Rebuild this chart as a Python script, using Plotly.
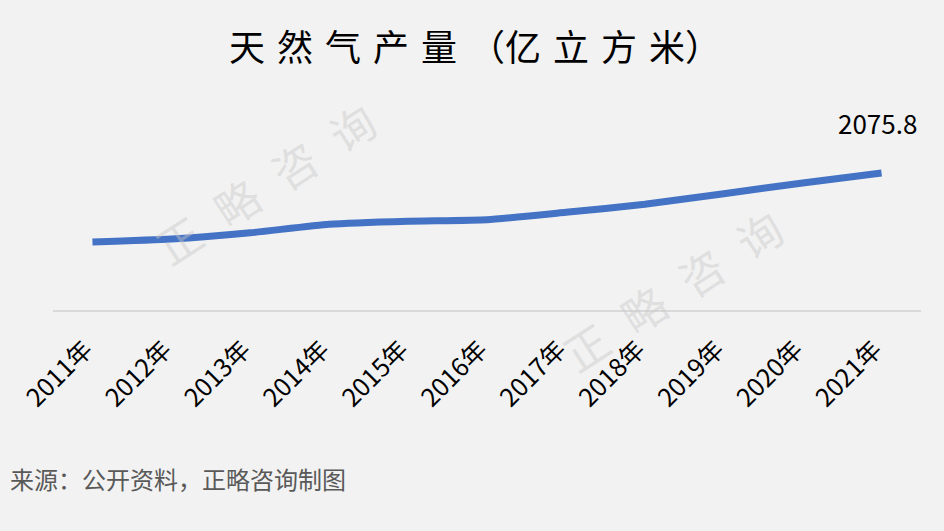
import plotly.graph_objects as go

years = ["2011年", "2012年", "2013年", "2014年", "2015年", "2016年",
         "2017年", "2018年", "2019年", "2020年", "2021年"]
production = [1030, 1075, 1170, 1300, 1346, 1369, 1480, 1602, 1762, 1925, 2075.8]
last_label = "2075.8"

SP = "\u2004"
title_text = SP.join(["天", "然", "气", "产", "量", "（亿", "立", "方", "米）"])
source_text = "来源：公开资料，正略咨询制图"
WSP = "\u2002\u200a"
watermark = WSP.join(["正", "略", "咨", "询"])

FONT = "Noto Sans CJK SC"

fig = go.Figure()
fig.add_trace(go.Scatter(
    x=years, y=production, mode="lines",
    line=dict(color="#4472C4", width=7, shape="spline", smoothing=0.5),
    hoverinfo="skip", showlegend=False,
))

L, R, T, B = 53, 23, 112, 221
W, H = 944, 531
pw, ph = W - L - R, H - T - B

def px(x):
    return (x - L) / pw

def py(y):
    return (H - B - y) / ph

wm_font = dict(family=FONT, size=44, color="rgba(200,200,200,0.45)")

annotations = [
    dict(x=px(265), y=py(183), xref="paper", yref="paper", text=watermark,
         showarrow=False, textangle=-33, xanchor="center", yanchor="middle",
         font=wm_font),
    dict(x=px(672), y=py(290), xref="paper", yref="paper", text=watermark,
         showarrow=False, textangle=-33, xanchor="center", yanchor="middle",
         font=wm_font),
    dict(x=years[-1], y=production[-1], xref="x", yref="y", text=last_label,
         showarrow=False, yshift=51, xshift=-4,
         font=dict(family=FONT, size=26, color="#000000")),
    dict(x=px(8), y=py(479), xref="paper", yref="paper", text=source_text,
         showarrow=False, xanchor="left", yanchor="middle",
         font=dict(family=FONT, size=24, color="#595959")),
]

fig.update_layout(
    width=W, height=H,
    paper_bgcolor="#f2f2f2", plot_bgcolor="#f2f2f2",
    margin=dict(l=L, r=R, t=T, b=B),
    title=dict(text=title_text, x=475 / W, xanchor="center", xref="container",
               y=1 - 48 / H, yanchor="middle", yref="container",
               font=dict(family=FONT, size=36, color="#000000")),
    xaxis=dict(
        type="category", range=[-0.5, 10.5],
        showgrid=False, zeroline=False,
        showline=True, linecolor="#d9d9d9", linewidth=2,
        ticks="", tickangle=-45, ticklabelstandoff=13, ticklabelshift=-7,
        tickfont=dict(family=FONT, size=25, color="#000000"),
    ),
    yaxis=dict(
        range=[0, 3000], showgrid=False, zeroline=False,
        showline=False, showticklabels=False, ticks="",
    ),
    annotations=annotations,
    font=dict(family=FONT),
)

fig.write_html(
    "out.html",
    config={"displayModeBar": False},
    post_script="document.body.style.margin='0';document.body.style.background='#f2f2f2';",
)
